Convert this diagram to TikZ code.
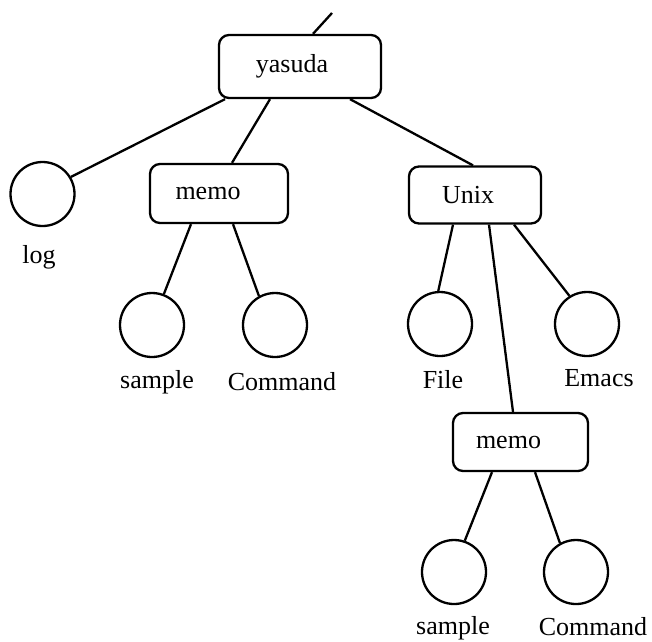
\documentclass[tikz,border=0pt]{standalone}
\usepackage{fontspec}
\setmainfont{Liberation Serif}
\usetikzlibrary{calc}
\begin{document}
\begin{tikzpicture}[x=1pt,y=-1pt,line width=2.3pt,
  dirbox/.style={draw,rounded corners=10pt,inner sep=0pt,font=\fontsize{26}{30}\selectfont},
  filecirc/.style={draw,circle,minimum size=64pt,inner sep=0pt},
  lbl/.style={inner sep=0pt,font=\fontsize{26}{30}\selectfont}]
\useasboundingbox (0,0) rectangle (652,641);
% directory boxes
\node[dirbox,minimum width=162pt,minimum height=63pt] (yasuda) at (300,66.5) {\hspace*{-16pt}yasuda};
\node[dirbox,minimum width=138pt,minimum height=59pt] (memo) at (219,193.5) {\hspace*{-22pt}memo};
\node[dirbox,minimum width=132pt,minimum height=57pt] (unix) at (475,195) {\hspace*{-14pt}Unix};
\node[dirbox,minimum width=135pt,minimum height=58pt] (memob) at (520.5,442) {\hspace*{-24pt}memo};
% file circles
\node[filecirc] (log) at (42.5,194) {};
\node[filecirc] (sample) at (152,325) {};
\node[filecirc] (command) at (275,325) {};
\node[filecirc] (file) at (440,324) {};
\node[filecirc] (emacs) at (587,324) {};
\node[filecirc] (sampleb) at (454,572) {};
\node[filecirc] (commandb) at (576,572) {};
% labels
\node[lbl] (loglbl) at (39,257) {log};
\node[lbl] (samplelbl) at (157,382) {sample};
\node[lbl] (commandlbl) at (282,382) {Command};
\node[lbl] (filelbl) at (443,380) {File};
\node[lbl] (emacslbl) at (599,378) {Emacs};
\node[lbl] (sampleblbl) at (453,628) {sample};
\node[lbl] (commandblbl) at (593,627) {Command};
% connectors
\coordinate (top) at (332,13);
\draw (top) -- ([xshift=13pt]yasuda.north);
\draw ([xshift=-75pt]yasuda.south) -- (log.31);
\draw ([xshift=-30pt]yasuda.south) -- ([xshift=13pt]memo.north);
\draw ([xshift=50pt]yasuda.south) -- ([xshift=-2pt]unix.north);
\draw ([xshift=-28pt]memo.south) -- (sample.69);
\draw ([xshift=14pt]memo.south) -- (command.119);
\draw ([xshift=-22pt]unix.south) -- (file.93);
\draw ([xshift=14pt]unix.south) -- ([xshift=-7.5pt]memob.north);
\draw ([xshift=39pt]unix.south) -- (emacs.122);
\draw ([xshift=-28.5pt]memob.south) -- (sampleb.71);
\draw ([xshift=14.5pt]memob.south) -- (commandb.119);
\end{tikzpicture}
\end{document}
